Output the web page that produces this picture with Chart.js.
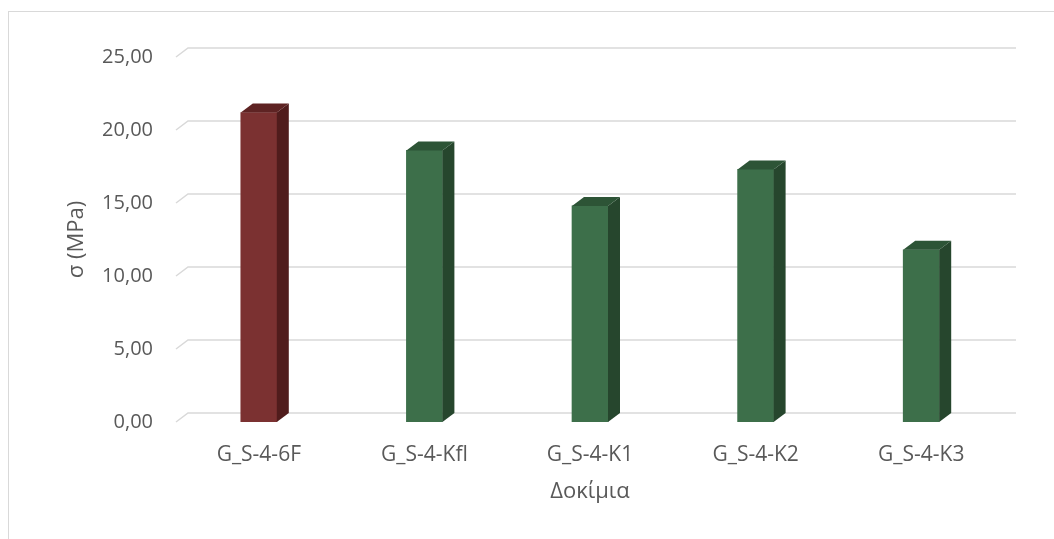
<!DOCTYPE html>
<html>
<head>
<meta charset="utf-8">
<script src="https://cdn.jsdelivr.net/npm/chart.js@4.4.1/dist/chart.umd.min.js"></script>
<style>
    html, body { margin: 0; padding: 0; background: #ffffff; }
    #wrap { position: relative; width: 1054px; height: 539px; }
</style>
</head>
<body>
<div id="wrap"><canvas id="stressChart"></canvas></div>
<script>
// Chart data
const specimens = ['G_S-4-6F', 'G_S-4-Kfl', 'G_S-4-K1', 'G_S-4-K2', 'G_S-4-K3'];
const stressValues = [21.2, 18.6, 14.8, 17.3, 11.8];
const yTicks = [0, 5, 10, 15, 20, 25];

// Colours per bar: front, top, side
const frontColors = ['#7b3131', '#3d6f4a', '#3d6f4a', '#3d6f4a', '#3d6f4a'];
const topColors = ['#5e2323', '#2d5436', '#2d5436', '#2d5436', '#2d5436'];
const sideColors = ['#501c1c', '#26462d', '#26462d', '#26462d', '#26462d'];

const DEPTH_X = 12;
const DEPTH_Y = 9;
const FONT = '"Open Sans", "Noto Sans", sans-serif';

// Frame around the chart like the Excel chart area
const framePlugin = {
    id: 'frame',
    beforeDraw(chart) {
        const ctx = chart.ctx;
        ctx.save();
        ctx.strokeStyle = '#d9d9d9';
        ctx.lineWidth = 1;
        ctx.strokeRect(8.5, 11.5, 2000, 2000);
        ctx.restore();
    }
};

// Back-wall gridlines with the little floor diagonal on the left
const wallGridPlugin = {
    id: 'wallGrid',
    beforeDatasetsDraw(chart) {
        const { ctx, chartArea } = chart;
        const y = chart.scales.y;
        ctx.save();
        ctx.strokeStyle = '#d9d9d9';
        ctx.lineWidth = 1.5;
        yTicks.forEach(v => {
            const py = y.getPixelForValue(v);
            ctx.beginPath();
            ctx.moveTo(chartArea.left, py);
            ctx.lineTo(chartArea.left + DEPTH_X, py - DEPTH_Y);
            ctx.lineTo(chartArea.right + DEPTH_X, py - DEPTH_Y);
            ctx.stroke();
        });
        ctx.restore();
    }
};

// Top and side faces of the 3D columns
const columnPlugin = {
    id: 'columns3d',
    afterDatasetsDraw(chart) {
        const ctx = chart.ctx;
        const meta = chart.getDatasetMeta(0);
        ctx.save();
        meta.data.forEach((bar, i) => {
            const { x, y, base, width } = bar.getProps(['x', 'y', 'base', 'width'], true);
            const l = x - width / 2;
            const r = x + width / 2;
            // side
            ctx.fillStyle = sideColors[i];
            ctx.beginPath();
            ctx.moveTo(r, y);
            ctx.lineTo(r + DEPTH_X, y - DEPTH_Y);
            ctx.lineTo(r + DEPTH_X, base - DEPTH_Y);
            ctx.lineTo(r, base);
            ctx.closePath();
            ctx.fill();
            // top
            ctx.fillStyle = topColors[i];
            ctx.beginPath();
            ctx.moveTo(l, y);
            ctx.lineTo(l + DEPTH_X, y - DEPTH_Y);
            ctx.lineTo(r + DEPTH_X, y - DEPTH_Y);
            ctx.lineTo(r, y);
            ctx.closePath();
            ctx.fill();
        });
        ctx.restore();
    }
};

const ctx = document.getElementById('stressChart').getContext('2d');
new Chart(ctx, {
    type: 'bar',
    data: {
        labels: specimens,
        datasets: [{
            label: 'σ (MPa)',
            data: stressValues,
            backgroundColor: frontColors,
            borderWidth: 0,
            barThickness: 36
        }]
    },
    options: {
        responsive: true,
        maintainAspectRatio: false,
        animation: false,
        layout: {
            padding: { left: 60, right: 50, top: 57, bottom: 34 }
        },
        plugins: {
            legend: { display: false },
            tooltip: { enabled: false }
        },
        scales: {
            x: {
                grid: { display: false, drawTicks: false },
                border: { display: false },
                ticks: {
                    color: '#595959',
                    padding: 20,
                    maxRotation: 0,
                    font: { family: FONT, size: 21 }
                },
                title: {
                    display: true,
                    text: 'Δοκίμια',
                    color: '#595959',
                    padding: 0,
                    font: { family: FONT, size: 22 }
                },
                afterFit(scale) {
                    scale.height = 83;
                }
            },
            y: {
                min: 0,
                max: 25,
                grid: { display: false, drawTicks: false },
                border: { display: false },
                ticks: {
                    stepSize: 5,
                    color: '#595959',
                    padding: 23,
                    font: { family: FONT, size: 20 },
                    callback: function(value) {
                        return value.toFixed(2).replace('.', ',');
                    }
                },
                title: {
                    display: true,
                    text: 'σ (MPa)',
                    color: '#595959',
                    padding: { top: 4, bottom: 0 },
                    font: { family: FONT, size: 22 }
                },
                afterFit(scale) {
                    scale.width = 116;
                }
            }
        }
    },
    plugins: [framePlugin, wallGridPlugin, columnPlugin]
});
</script>
</body>
</html>
